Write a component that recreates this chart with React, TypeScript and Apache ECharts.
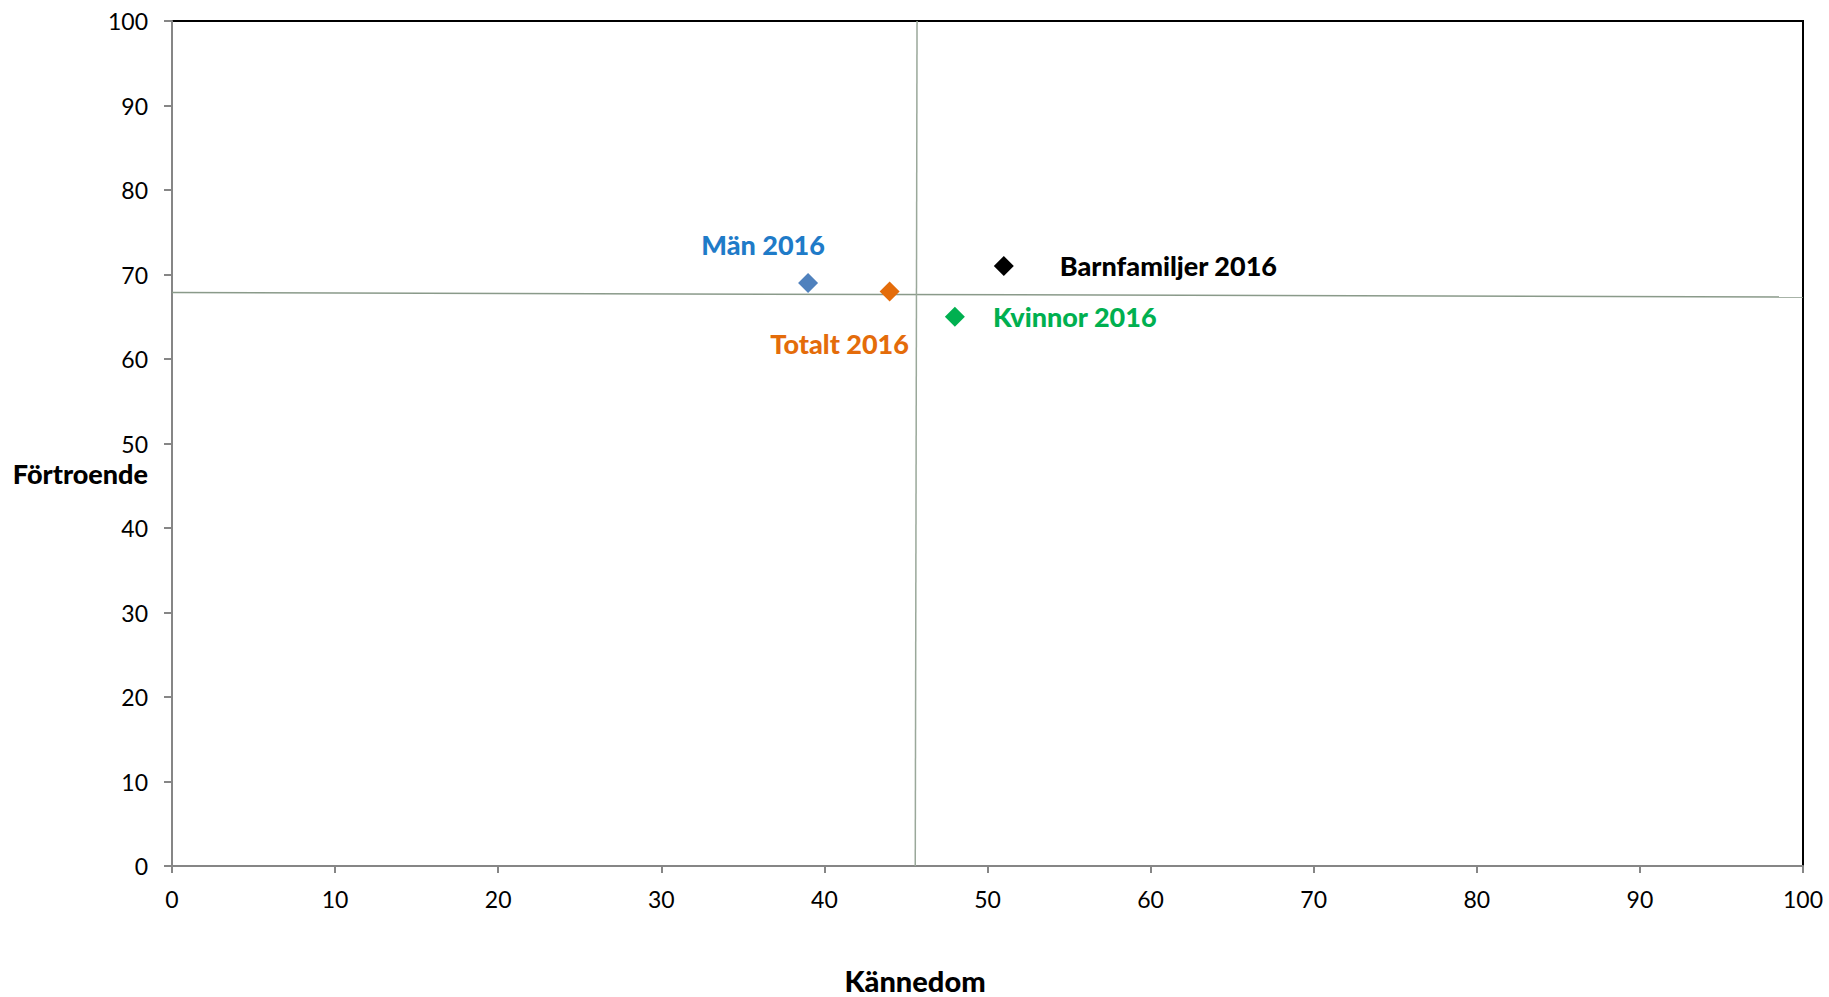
import React, { useEffect, useRef } from "react";
import * as echarts from "echarts";

// Kännedom (x) and förtroende (y) per group
const groupNames = ["Män 2016", "Totalt 2016", "Kvinnor 2016", "Barnfamiljer 2016"];
const kannedom = [39, 44, 48, 51];
const fortroende = [69, 68, 65, 71];
const markerColors = ["#4f81bd", "#e46c0a", "#00b050", "#000000"];
const labelColors = ["#1f7bc8", "#e46c0a", "#00b050", "#000000"];

// Average lines dividing the map into quadrants
const avgHorizontal = [
  [0, 67.87],
  [100, 67.33],
];
const avgVertical = [
  [45.68, 100],
  [45.57, 0],
];

const axisMin = 0;
const axisMax = 100;
const axisStep = 10;

const FONT = "Lato, 'Open Sans', sans-serif";

// label placement relative to each marker centre
const labelOffsets: [number, number][] = [
  [-45, -38],
  [-50, 52],
  [38, 0],
  [56, -1],
];
const labelAligns = ["center", "center", "left", "left"];

export default function App() {
  const ref = useRef<HTMLDivElement>(null);

  useEffect(() => {
    if (!ref.current) return;
    const chart = echarts.init(ref.current, undefined, { renderer: "svg" });

    const pointSeries = groupNames.map((name, i) => ({
      name,
      type: "scatter",
      symbol: "diamond",
      symbolSize: 20,
      z: 5,
      itemStyle: { color: markerColors[i], opacity: 1 },
      label: {
        show: true,
        position: "inside",
        formatter: name,
        align: labelAligns[i],
        verticalAlign: "middle",
        offset: labelOffsets[i],
        color: labelColors[i],
        fontFamily: FONT,
        fontWeight: 900,
        fontSize: 27,
      },
      data: [[kannedom[i], fortroende[i]]],
    }));

    chart.setOption({
      animation: false,
      backgroundColor: "#ffffff",
      grid: {
        left: 172,
        top: 21,
        right: 26,
        bottom: 131,
        show: true,
        borderColor: "#000000",
        borderWidth: 2,
        backgroundColor: "#ffffff",
      },
      xAxis: {
        type: "value",
        min: axisMin,
        max: axisMax,
        interval: axisStep,
        splitLine: { show: false },
        axisLine: { show: true, lineStyle: { color: "#868686", width: 2 } },
        axisTick: { show: true, length: 7, lineStyle: { color: "#868686", width: 2 } },
        axisLabel: {
          color: "#000000",
          fontFamily: FONT,
          fontSize: 23,
          margin: 21,
        },
      },
      yAxis: {
        type: "value",
        min: axisMin,
        max: axisMax,
        interval: axisStep,
        splitLine: { show: false },
        axisLine: { show: true, lineStyle: { color: "#868686", width: 2 } },
        axisTick: { show: true, length: 8, lineStyle: { color: "#868686", width: 2 } },
        axisLabel: {
          color: "#000000",
          fontFamily: FONT,
          fontSize: 23,
          margin: 24,
        },
      },
      graphic: [
        {
          type: "text",
          x: 148,
          y: 473,
          style: {
            text: "Förtroende",
            fill: "#000000",
            font: `900 27px ${FONT}`,
            textAlign: "right",
            textVerticalAlign: "middle",
          },
        },
        {
          type: "text",
          x: 915,
          y: 980,
          style: {
            text: "Kännedom",
            fill: "#000000",
            font: `900 29px ${FONT}`,
            textAlign: "center",
            textVerticalAlign: "middle",
          },
        },
      ],
      series: [
        {
          type: "line",
          data: avgHorizontal,
          symbol: "none",
          silent: true,
          z: 2,
          lineStyle: { color: "#8a9a8a", width: 1.5 },
        },
        {
          type: "line",
          data: avgVertical,
          symbol: "none",
          silent: true,
          z: 2,
          lineStyle: { color: "#9aa89a", width: 1.5 },
        },
        ...pointSeries,
      ],
    });

    return () => chart.dispose();
  }, []);

  return (
    <div
      ref={ref}
      style={{ position: "absolute", left: 0, top: 0, width: 1829, height: 997 }}
    />
  );
}
